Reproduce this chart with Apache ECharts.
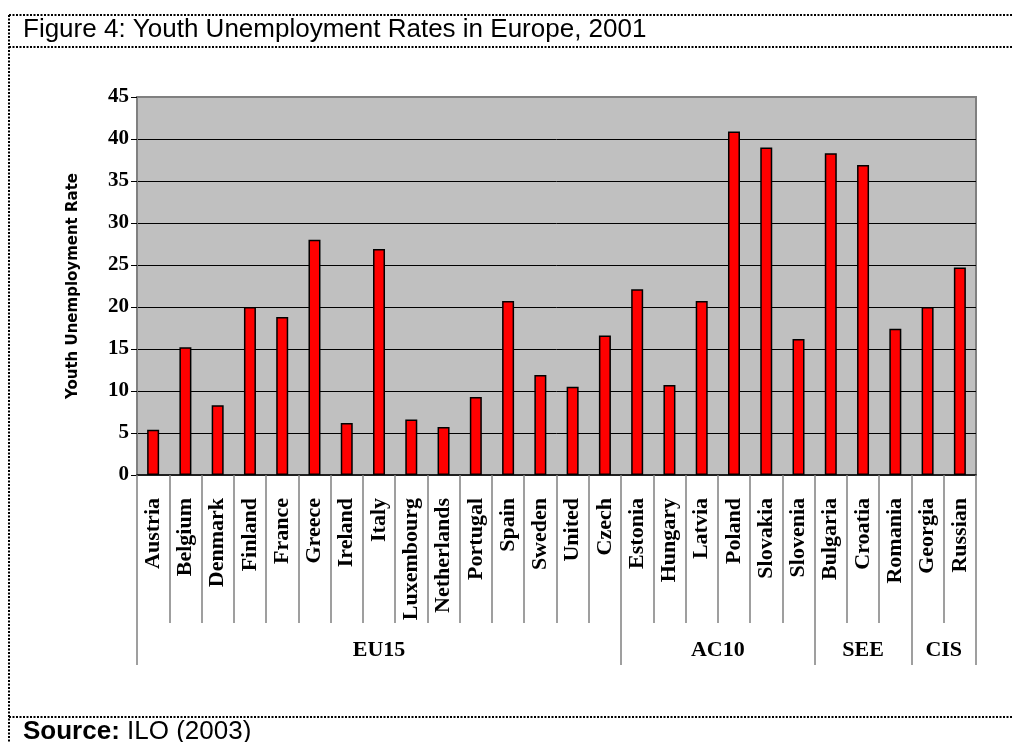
<!DOCTYPE html>
<html>
<head>
<meta charset="utf-8">
<script src="https://cdn.jsdelivr.net/npm/echarts@6/dist/echarts.min.js"></script>
<style>
  html, body { margin: 0; padding: 0; background: #fff; }
  #chart { width: 1013px; height: 742px; }
</style>
</head>
<body>
<div id="chart"></div>
<script>
// Youth unemployment rates (%) by country, 2001
const countries = ['Austria', 'Belgium', 'Denmark', 'Finland', 'France', 'Greece', 'Ireland', 'Italy',
  'Luxembourg', 'Netherlands', 'Portugal', 'Spain', 'Sweden', 'United', 'Czech',
  'Estonia', 'Hungary', 'Latvia', 'Poland', 'Slovakia', 'Slovenia',
  'Bulgaria', 'Croatia', 'Romania', 'Georgia', 'Russian'];
const rates = [5.4, 15.2, 8.3, 20.0, 18.8, 28.0, 6.2, 26.9,
  6.6, 5.7, 9.3, 20.7, 11.9, 10.5, 16.6,
  22.1, 10.7, 20.7, 40.9, 39.0, 16.2,
  38.3, 36.9, 17.4, 20.0, 24.7];

// Country groups, in the same order as the countries above
const groupNames = ['EU15', 'AC10', 'SEE', 'CIS'];
const groupSizes = [15, 6, 3, 2];

// y axis ticks
const yMin = 0, yMax = 45, yStep = 5;

// group boundaries and label centres, in category units
const groupEdges = [0];
groupSizes.forEach(n => groupEdges.push(groupEdges[groupEdges.length - 1] + n));
const groupCentres = groupSizes.map((n, i) => groupEdges[i] + n / 2);

const serif = 'Liberation Serif';

const chart = echarts.init(document.getElementById('chart'), null, { renderer: 'canvas' });

const dotted = { stroke: '#000', lineWidth: 2, lineDash: [2, 1.5] };

chart.setOption({
  animation: false,
  backgroundColor: '#fff',
  grid: {
    left: 137, right: 37, top: 97, bottom: 267,
    show: true, backgroundColor: '#C0C0C0', borderColor: '#808080', borderWidth: 2
  },
  xAxis: [
    {
      type: 'category',
      data: countries,
      boundaryGap: true,
      axisLine: { lineStyle: { color: '#000', width: 1.5 } },
      axisTick: { show: true, interval: 0, length: 148, lineStyle: { color: '#808080', width: 1.5 } },
      axisLabel: {
        interval: 0, rotate: 90, margin: 23,
        fontFamily: serif, fontWeight: 'bold', fontSize: 22, color: '#000'
      },
      splitLine: { show: false }
    },
    {
      // country-group bands under the country names
      type: 'value',
      min: 0, max: groupEdges[groupEdges.length - 1],
      position: 'bottom',
      axisLine: { show: false },
      splitLine: { show: false },
      axisTick: { show: true, customValues: groupEdges, length: 190, lineStyle: { color: '#808080', width: 1.5 } },
      axisLabel: {
        customValues: groupCentres, margin: 164,
        formatter: v => groupNames[groupCentres.indexOf(v)] || '',
        fontFamily: serif, fontWeight: 'bold', fontSize: 22, color: '#000'
      }
    }
  ],
  yAxis: {
    type: 'value',
    min: yMin, max: yMax, interval: yStep,
    name: 'Youth Unemployment Rate',
    nameLocation: 'middle', nameGap: 56, nameRotate: 90,
    nameTextStyle: { fontFamily: 'DejaVu Sans', fontWeight: 900, fontSize: 15, color: '#000' },
    axisLine: { show: true, lineStyle: { color: '#808080', width: 2 } },
    axisTick: { show: true, length: 6, lineStyle: { color: '#000' } },
    axisLabel: { margin: 8, fontFamily: serif, fontWeight: 'bold', fontSize: 21, color: '#000' },
    splitLine: { show: true, showMinLine: false, showMaxLine: false, lineStyle: { color: '#000', width: 1 } }
  },
  series: [{
    type: 'bar',
    xAxisIndex: 0,
    data: rates,
    barWidth: 12,
    itemStyle: { color: '#FF0000', borderColor: '#000', borderWidth: 1.5 }
  }],
  graphic: [
    { type: 'line', shape: { x1: 9, y1: 15, x2: 1013, y2: 15 }, style: dotted, silent: true },
    { type: 'line', shape: { x1: 9, y1: 47, x2: 1013, y2: 47 }, style: dotted, silent: true },
    { type: 'line', shape: { x1: 9, y1: 15, x2: 9, y2: 742 }, style: dotted, silent: true },
    { type: 'line', shape: { x1: 9, y1: 717, x2: 1013, y2: 717 }, style: dotted, silent: true },
    {
      type: 'text', left: 23, top: 17,
      style: {
        text: 'Figure 4: Youth Unemployment Rates in Europe, 2001',
        font: '26px "Liberation Sans"', fill: '#000'
      }
    },
    {
      type: 'text', left: 23, top: 719,
      style: {
        text: '{b|Source:} ILO (2003)',
        font: '26px "Liberation Sans"', fill: '#000',
        rich: { b: { fontFamily: 'Liberation Sans', fontWeight: 'bold', fontSize: 26 } }
      }
    }
  ]
});
</script>
</body>
</html>
